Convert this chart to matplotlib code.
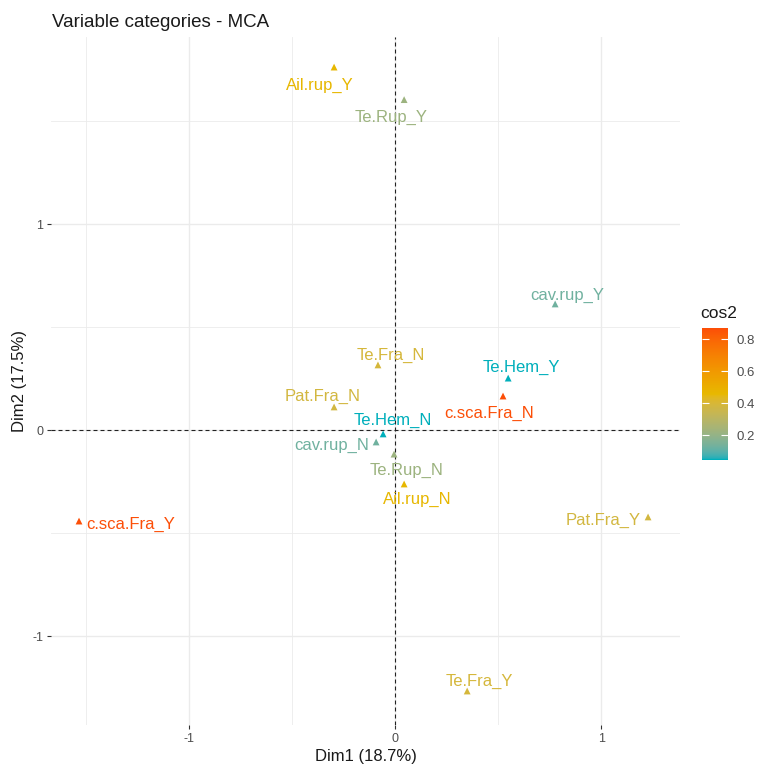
import numpy as np
import matplotlib
matplotlib.use("Agg")
import matplotlib.pyplot as plt
import matplotlib.colors as mcolors
from matplotlib.cm import ScalarMappable

plt.rcParams['font.family'] = ['Liberation Sans', 'DejaVu Sans']
plt.rcParams['axes.unicode_minus'] = False

# MCA variable categories: coordinates on Dim1/Dim2 and cos2
categories = ['Ail.rup_Y', 'Te.Rup_Y', 'cav.rup_Y', 'Te.Hem_Y', 'c.sca.Fra_N',
              'Pat.Fra_Y', 'Te.Fra_N', 'Pat.Fra_N', 'Te.Hem_N', 'cav.rup_N',
              'Te.Rup_N', 'Ail.rup_N', 'c.sca.Fra_Y', 'Te.Fra_Y']
dim1 = [-0.296, 0.044, 0.777, 0.549, 0.524, 1.228, -0.083, -0.296, -0.058, -0.092,
        -0.005, 0.044, -1.534, 0.350]
dim2 = [1.762, 1.604, 0.612, 0.252, 0.165, -0.422, 0.316, 0.112, -0.019, -0.058,
        -0.117, -0.262, -0.442, -1.267]
cos2 = [0.46, 0.22, 0.13, 0.044, 0.869, 0.38, 0.39, 0.38, 0.044, 0.13,
        0.22, 0.46, 0.869, 0.39]

# label offsets (points, x right / y up) as placed by the repel step
label_dx = [-10.4, -9.7, 8.6, 9.7, -10.1, -32.4, 9.0, -8.6, 6.8, -32.0, 9.0, 9.4, 37.1, 9.0]
label_dy = [-13.0, -12.6, 6.5, 7.9, -12.2, -2.5, 7.2, 7.9, 9.7, -2.5, -11.9, -11.2, -2.5, 7.2]

grad_cols = ['#00AFBB', '#E7B800', '#FC4E07']

# ggplot interpolates gradients in CIELAB, so build the colormap that way
M = np.array([[0.4124, 0.3576, 0.1805],
              [0.2126, 0.7152, 0.0722],
              [0.0193, 0.1192, 0.9505]])
WHITE = np.array([0.95047, 1.0, 1.08883])


def to_lab(hexcol):
    rgb = np.array(mcolors.to_rgb(hexcol))
    lin = np.where(rgb <= 0.04045, rgb / 12.92, ((rgb + 0.055) / 1.055) ** 2.4)
    xyz = M @ lin / WHITE
    f = np.where(xyz > 0.008856, np.cbrt(xyz), 7.787 * xyz + 16 / 116)
    return np.array([116 * f[1] - 16, 500 * (f[0] - f[1]), 200 * (f[1] - f[2])])


def from_lab(lab):
    fy = (lab[:, 0] + 16) / 116
    f = np.stack([fy + lab[:, 1] / 500, fy, fy - lab[:, 2] / 200], axis=1)
    xyz = np.where(f > 0.206893, f ** 3, (f - 16 / 116) / 7.787) * WHITE
    lin = np.clip(xyz @ np.linalg.inv(M).T, 0, None)
    rgb = np.where(lin <= 0.0031308, 12.92 * lin, 1.055 * lin ** (1 / 2.4) - 0.055)
    return np.clip(rgb, 0, 1)


labs = np.array([to_lab(c) for c in grad_cols])
t = np.linspace(0, 1, 256)
seg = np.minimum((t * 2).astype(int), 1)
frac = t * 2 - seg
lab_ramp = labs[seg] * (1 - frac)[:, None] + labs[seg + 1] * frac[:, None]
cmap = mcolors.ListedColormap(from_lab(lab_ramp))
norm = mcolors.Normalize(vmin=min(cos2), vmax=max(cos2))

fig = plt.figure(figsize=(7.63, 7.71), dpi=100)
W, H = 763, 771
ax = fig.add_axes([51 / W, 1 - 725 / H, (680 - 51) / W, (725 - 37) / H])

ax.set_xticks([-1, 0, 1])
ax.set_yticks([-1, 0, 1])
ax.set_xticks([-1.5, -0.5, 0.5], minor=True)
ax.set_yticks([-0.5, 0.5, 1.5], minor=True)
ax.set_xlim(-1.670, 1.383)
ax.set_ylim(-1.432, 1.908)
ax.grid(which='major', color='#EBEBEB', lw=1.0)
ax.grid(which='minor', color='#EBEBEB', lw=0.6)
ax.set_axisbelow(True)
for sp in ax.spines.values():
    sp.set_visible(False)
ax.tick_params(which='major', length=3, width=0.8, color='#333333', pad=2.5,
               labelsize=9, labelcolor='#4D4D4D')
ax.tick_params(which='minor', length=0)

ax.axhline(0, color='#222222', lw=0.8, ls=(0, (3.6, 2.7)))
ax.axvline(0, color='#222222', lw=0.8, ls=(0, (3.6, 2.7)))

pt_cols = cmap(norm(np.array(cos2)))
ax.scatter(dim1, dim2, marker='^', s=24, c=pt_cols, linewidths=0, zorder=3)
for name, x, y, dx, dy, col in zip(categories, dim1, dim2, label_dx, label_dy, pt_cols):
    ax.annotate(name, (x, y), xytext=(dx, dy), textcoords='offset points',
                ha='center', va='center', fontsize=12, color=col, zorder=4)

ax.set_xlabel('Dim1 (18.7%)', fontsize=12, color='#1A1A1A')
ax.set_ylabel('Dim2 (17.5%)', fontsize=12, color='#1A1A1A')
ax.xaxis.set_label_coords(0.5, -(757 - 725) / 688)
ax.yaxis.set_label_coords(-(51 - 20) / 629, 0.5)
ax.xaxis.label.set_va('center')
ax.yaxis.label.set_va('center')

fig.text(52 / W, 1 - 27 / H, 'Variable categories - MCA', fontsize=13.5,
         color='#1A1A1A', va='baseline', ha='left')

# colour bar legend
cax = fig.add_axes([702 / W, 1 - 460 / H, 26 / W, 132 / H])
cb = fig.colorbar(ScalarMappable(norm=norm, cmap=cmap), cax=cax)
cb.outline.set_visible(False)
cb.set_ticks([0.2, 0.4, 0.6, 0.8])
cb.set_ticklabels(['0.2', '0.4', '0.6', '0.8'])
cax.tick_params(direction='in', length=5, width=0.8, color='white', left=True, right=True,
                labelsize=9.5, labelcolor='#4D4D4D', pad=6)
fig.text(700 / W, 1 - 318 / H, 'cos2', fontsize=12.5, color='#1A1A1A',
         va='baseline', ha='left')

fig.savefig('out.png', dpi=100, facecolor='white')
